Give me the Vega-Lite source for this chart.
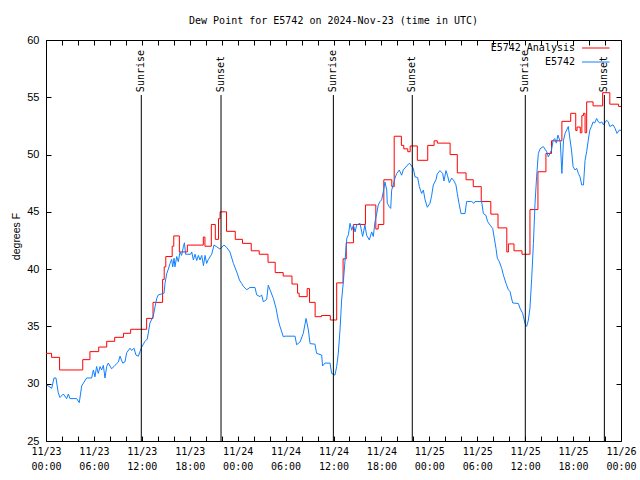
{
"$schema": "https://vega.github.io/schema/vega-lite/v6.json",
"width": 575, "height": 401,
"autosize": {"type": "none"},
"padding": {"left": 46, "top": 40, "right": 19, "bottom": 39},
"background": "white",
"title": {"text": "Dew Point for E5742 on 2024-Nov-23 (time in UTC)", "font": "DejaVu Sans Mono", "fontSize": 10, "fontWeight": "normal", "color": "black", "offset": 0, "baseline": "alphabetic", "anchor": "middle", "frame": "group"},
"config": {"view": {"stroke": "black", "strokeWidth": 1}, "axis": {"domain": false, "grid": false, "tickColor": "black", "tickWidth": 1, "labelColor": "black", "titleColor": "black"}},
"datasets": {
"ana": [
{"t":"2024-11-23T00:00:00Z","v":32.65},{"t":"2024-11-23T00:42:00Z","v":32.3},{"t":"2024-11-23T01:42:00Z","v":31.2},{"t":"2024-11-23T04:36:00Z","v":32.1},{"t":"2024-11-23T05:30:00Z","v":32.8},{"t":"2024-11-23T06:36:00Z","v":33.2},{"t":"2024-11-23T07:36:00Z","v":33.7},{"t":"2024-11-23T08:36:00Z","v":34.05},{"t":"2024-11-23T09:42:00Z","v":34.4},{"t":"2024-11-23T10:36:00Z","v":34.75},{"t":"2024-11-23T12:36:00Z","v":35.7},{"t":"2024-11-23T13:24:00Z","v":37.1},{"t":"2024-11-23T14:36:00Z","v":39.1},{"t":"2024-11-23T14:48:00Z","v":40.2},{"t":"2024-11-23T15:00:00Z","v":41.1},{"t":"2024-11-23T15:48:00Z","v":42.0},{"t":"2024-11-23T16:00:00Z","v":42.9},{"t":"2024-11-23T16:42:00Z","v":41.5},{"t":"2024-11-23T17:42:00Z","v":42.1},{"t":"2024-11-23T19:42:00Z","v":42.8},{"t":"2024-11-23T19:54:00Z","v":42.0},{"t":"2024-11-23T20:42:00Z","v":43.9},{"t":"2024-11-23T21:12:00Z","v":42.6},{"t":"2024-11-23T21:36:00Z","v":44.4},{"t":"2024-11-23T21:48:00Z","v":45.0},{"t":"2024-11-23T22:36:00Z","v":43.3},{"t":"2024-11-23T23:42:00Z","v":42.6},
{"t":"2024-11-24T00:36:00Z","v":42.25},{"t":"2024-11-24T01:42:00Z","v":41.6},{"t":"2024-11-24T02:42:00Z","v":41.3},{"t":"2024-11-24T03:48:00Z","v":40.6},{"t":"2024-11-24T04:42:00Z","v":39.7},{"t":"2024-11-24T05:42:00Z","v":39.4},{"t":"2024-11-24T06:48:00Z","v":38.7},{"t":"2024-11-24T07:30:00Z","v":37.9},{"t":"2024-11-24T07:42:00Z","v":37.6},{"t":"2024-11-24T08:42:00Z","v":38.3},{"t":"2024-11-24T09:00:00Z","v":37.1},{"t":"2024-11-24T09:42:00Z","v":35.85},{"t":"2024-11-24T10:30:00Z","v":35.95},{"t":"2024-11-24T11:36:00Z","v":35.56},{"t":"2024-11-24T12:24:00Z","v":38.8},{"t":"2024-11-24T13:12:00Z","v":40.9},{"t":"2024-11-24T13:36:00Z","v":42.3},{"t":"2024-11-24T14:30:00Z","v":43.9},{"t":"2024-11-24T16:00:00Z","v":45.6},{"t":"2024-11-24T17:18:00Z","v":43.5},{"t":"2024-11-24T17:36:00Z","v":43.9},{"t":"2024-11-24T18:18:00Z","v":47.8},{"t":"2024-11-24T19:18:00Z","v":47.2},{"t":"2024-11-24T19:36:00Z","v":51.6},{"t":"2024-11-24T20:30:00Z","v":50.8},{"t":"2024-11-24T20:48:00Z","v":50.5},{"t":"2024-11-24T21:18:00Z","v":50.25},{"t":"2024-11-24T21:36:00Z","v":50.75},{"t":"2024-11-24T22:30:00Z","v":49.5},{"t":"2024-11-24T23:48:00Z","v":50.8},
{"t":"2024-11-25T00:36:00Z","v":51.2},{"t":"2024-11-25T01:00:00Z","v":51.0},{"t":"2024-11-25T02:36:00Z","v":50.0},{"t":"2024-11-25T03:30:00Z","v":48.4},{"t":"2024-11-25T04:36:00Z","v":47.8},{"t":"2024-11-25T05:30:00Z","v":47.2},{"t":"2024-11-25T06:30:00Z","v":45.9},{"t":"2024-11-25T07:42:00Z","v":44.8},{"t":"2024-11-25T08:36:00Z","v":43.6},{"t":"2024-11-25T09:42:00Z","v":41.5},{"t":"2024-11-25T09:54:00Z","v":42.2},{"t":"2024-11-25T10:36:00Z","v":41.6},{"t":"2024-11-25T11:36:00Z","v":41.3},{"t":"2024-11-25T12:36:00Z","v":45.2},{"t":"2024-11-25T13:36:00Z","v":48.5},{"t":"2024-11-25T14:36:00Z","v":50.1},{"t":"2024-11-25T15:18:00Z","v":51.2},{"t":"2024-11-25T16:36:00Z","v":52.9},{"t":"2024-11-25T17:42:00Z","v":53.6},{"t":"2024-11-25T18:20:00Z","v":52.1},{"t":"2024-11-25T18:30:00Z","v":52.4},{"t":"2024-11-25T18:54:00Z","v":51.9},{"t":"2024-11-25T19:06:00Z","v":53.4},{"t":"2024-11-25T19:18:00Z","v":53.6},{"t":"2024-11-25T19:30:00Z","v":51.9},{"t":"2024-11-25T19:42:00Z","v":54.6},{"t":"2024-11-25T20:30:00Z","v":54.25},{"t":"2024-11-25T21:42:00Z","v":55.4},{"t":"2024-11-25T22:36:00Z","v":54.4},{"t":"2024-11-25T23:42:00Z","v":54.2},{"t":"2024-11-26T00:00:00Z","v":54.2}
],
"obs": [
{"t":"2024-11-23T00:05:00Z","v":29.9},{"t":"2024-11-23T00:43:00Z","v":29.6},{"t":"2024-11-23T01:00:00Z","v":30.5},{"t":"2024-11-23T01:15:00Z","v":30.5},{"t":"2024-11-23T01:32:00Z","v":29.2},{"t":"2024-11-23T01:45:00Z","v":28.8},{"t":"2024-11-23T02:10:00Z","v":29.1},{"t":"2024-11-23T02:35:00Z","v":28.7},{"t":"2024-11-23T02:48:00Z","v":29.1},{"t":"2024-11-23T03:00:00Z","v":28.7},{"t":"2024-11-23T03:50:00Z","v":28.7},{"t":"2024-11-23T04:10:00Z","v":28.35},{"t":"2024-11-23T04:28:00Z","v":29.8},{"t":"2024-11-23T05:05:00Z","v":30.5},{"t":"2024-11-23T05:43:00Z","v":30.5},{"t":"2024-11-23T05:56:00Z","v":31.2},{"t":"2024-11-23T06:08:00Z","v":30.6},{"t":"2024-11-23T06:20:00Z","v":31.5},{"t":"2024-11-23T06:33:00Z","v":30.9},{"t":"2024-11-23T06:46:00Z","v":31.5},{"t":"2024-11-23T06:58:00Z","v":31.2},{"t":"2024-11-23T07:11:00Z","v":31.6},{"t":"2024-11-23T07:23:00Z","v":30.5},{"t":"2024-11-23T07:36:00Z","v":31.5},{"t":"2024-11-23T07:48:00Z","v":31.8},{"t":"2024-11-23T08:13:00Z","v":31.3},{"t":"2024-11-23T08:38:00Z","v":31.6},{"t":"2024-11-23T09:04:00Z","v":31.9},{"t":"2024-11-23T09:16:00Z","v":32.4},{"t":"2024-11-23T09:36:00Z","v":31.8},{"t":"2024-11-23T09:53:00Z","v":31.9},{"t":"2024-11-23T10:06:00Z","v":32.7},{"t":"2024-11-23T10:31:00Z","v":33.1},{"t":"2024-11-23T10:44:00Z","v":32.9},{"t":"2024-11-23T11:01:00Z","v":33.1},{"t":"2024-11-23T11:16:00Z","v":32.5},{"t":"2024-11-23T11:34:00Z","v":32.4},{"t":"2024-11-23T11:46:00Z","v":32.8},{"t":"2024-11-23T11:59:00Z","v":33.2},{"t":"2024-11-23T12:24:00Z","v":33.7},{"t":"2024-11-23T12:41:00Z","v":33.9},{"t":"2024-11-23T13:01:00Z","v":35.3},{"t":"2024-11-23T13:26:00Z","v":35.9},{"t":"2024-11-23T13:39:00Z","v":36.7},{"t":"2024-11-23T13:52:00Z","v":37.45},{"t":"2024-11-23T14:04:00Z","v":37.75},{"t":"2024-11-23T14:47:00Z","v":37.9},{"t":"2024-11-23T14:54:00Z","v":38.75},{"t":"2024-11-23T15:07:00Z","v":39.6},{"t":"2024-11-23T15:19:00Z","v":40.0},{"t":"2024-11-23T15:32:00Z","v":40.5},{"t":"2024-11-23T15:44:00Z","v":40.85},{"t":"2024-11-23T15:52:00Z","v":40.2},{"t":"2024-11-23T16:02:00Z","v":40.95},{"t":"2024-11-23T16:09:00Z","v":40.2},{"t":"2024-11-23T16:22:00Z","v":41.1},{"t":"2024-11-23T16:34:00Z","v":40.65},{"t":"2024-11-23T16:47:00Z","v":41.5},{"t":"2024-11-23T16:59:00Z","v":41.2},{"t":"2024-11-23T17:12:00Z","v":41.95},{"t":"2024-11-23T17:20:00Z","v":42.3},{"t":"2024-11-23T17:29:00Z","v":41.3},{"t":"2024-11-23T18:07:00Z","v":41.3},{"t":"2024-11-23T18:15:00Z","v":41.5},{"t":"2024-11-23T18:27:00Z","v":40.8},{"t":"2024-11-23T18:40:00Z","v":41.3},{"t":"2024-11-23T18:52:00Z","v":40.75},{"t":"2024-11-23T19:05:00Z","v":41.2},{"t":"2024-11-23T19:17:00Z","v":40.8},{"t":"2024-11-23T19:30:00Z","v":41.2},{"t":"2024-11-23T19:43:00Z","v":40.3},{"t":"2024-11-23T19:55:00Z","v":41.2},{"t":"2024-11-23T20:07:00Z","v":40.5},{"t":"2024-11-23T20:20:00Z","v":40.85},{"t":"2024-11-23T20:45:00Z","v":41.3},{"t":"2024-11-23T21:02:00Z","v":42.1},{"t":"2024-11-23T21:23:00Z","v":41.95},{"t":"2024-11-23T21:47:00Z","v":41.75},{"t":"2024-11-23T22:17:00Z","v":42.1},{"t":"2024-11-23T22:37:00Z","v":41.9},{"t":"2024-11-23T23:02:00Z","v":41.5},{"t":"2024-11-23T23:28:00Z","v":40.5},{"t":"2024-11-23T23:58:00Z","v":39.6},
{"t":"2024-11-24T00:13:00Z","v":39.05},{"t":"2024-11-24T00:30:00Z","v":38.75},{"t":"2024-11-24T00:43:00Z","v":38.5},{"t":"2024-11-24T01:08:00Z","v":38.2},{"t":"2024-11-24T01:32:00Z","v":38.4},{"t":"2024-11-24T02:10:00Z","v":38.4},{"t":"2024-11-24T02:23:00Z","v":37.75},{"t":"2024-11-24T02:48:00Z","v":37.6},{"t":"2024-11-24T03:00:00Z","v":37.75},{"t":"2024-11-24T03:13:00Z","v":37.15},{"t":"2024-11-24T03:38:00Z","v":37.35},{"t":"2024-11-24T03:50:00Z","v":38.6},{"t":"2024-11-24T04:03:00Z","v":38.2},{"t":"2024-11-24T04:28:00Z","v":37.45},{"t":"2024-11-24T04:48:00Z","v":36.6},{"t":"2024-11-24T05:05:00Z","v":35.55},{"t":"2024-11-24T05:18:00Z","v":35.0},{"t":"2024-11-24T05:43:00Z","v":34.1},{"t":"2024-11-24T05:56:00Z","v":34.15},{"t":"2024-11-24T07:11:00Z","v":34.15},{"t":"2024-11-24T07:23:00Z","v":33.4},{"t":"2024-11-24T07:49:00Z","v":33.65},{"t":"2024-11-24T08:13:00Z","v":34.4},{"t":"2024-11-24T08:34:00Z","v":35.7},{"t":"2024-11-24T08:51:00Z","v":34.7},{"t":"2024-11-24T09:04:00Z","v":33.5},{"t":"2024-11-24T09:41:00Z","v":33.45},{"t":"2024-11-24T09:53:00Z","v":32.65},{"t":"2024-11-24T10:31:00Z","v":32.5},{"t":"2024-11-24T10:38:00Z","v":31.55},{"t":"2024-11-24T10:56:00Z","v":31.8},{"t":"2024-11-24T11:34:00Z","v":31.8},{"t":"2024-11-24T11:46:00Z","v":30.9},{"t":"2024-11-24T12:11:00Z","v":30.75},{"t":"2024-11-24T12:24:00Z","v":31.5},{"t":"2024-11-24T12:36:00Z","v":32.65},{"t":"2024-11-24T12:49:00Z","v":34.7},{"t":"2024-11-24T13:01:00Z","v":37.3},{"t":"2024-11-24T13:14:00Z","v":38.9},{"t":"2024-11-24T13:27:00Z","v":40.8},{"t":"2024-11-24T13:40:00Z","v":42.7},{"t":"2024-11-24T13:52:00Z","v":43.0},{"t":"2024-11-24T14:04:00Z","v":44.0},{"t":"2024-11-24T14:17:00Z","v":43.4},{"t":"2024-11-24T14:30:00Z","v":43.85},{"t":"2024-11-24T14:42:00Z","v":43.25},{"t":"2024-11-24T14:54:00Z","v":43.85},{"t":"2024-11-24T15:19:00Z","v":44.0},{"t":"2024-11-24T15:39:00Z","v":42.85},{"t":"2024-11-24T15:56:00Z","v":43.85},{"t":"2024-11-24T16:09:00Z","v":42.95},{"t":"2024-11-24T16:29:00Z","v":42.55},{"t":"2024-11-24T16:47:00Z","v":43.25},{"t":"2024-11-24T16:59:00Z","v":42.85},{"t":"2024-11-24T17:12:00Z","v":44.15},{"t":"2024-11-24T17:25:00Z","v":44.85},{"t":"2024-11-24T17:36:00Z","v":45.6},{"t":"2024-11-24T17:50:00Z","v":45.9},{"t":"2024-11-24T18:02:00Z","v":46.05},{"t":"2024-11-24T18:14:00Z","v":46.75},{"t":"2024-11-24T18:27:00Z","v":47.6},{"t":"2024-11-24T18:40:00Z","v":46.9},{"t":"2024-11-24T18:44:00Z","v":45.75},{"t":"2024-11-24T18:59:00Z","v":45.45},{"t":"2024-11-24T19:10:00Z","v":45.3},{"t":"2024-11-24T19:17:00Z","v":46.9},{"t":"2024-11-24T19:29:00Z","v":47.35},{"t":"2024-11-24T19:42:00Z","v":47.95},{"t":"2024-11-24T19:55:00Z","v":48.35},{"t":"2024-11-24T20:14:00Z","v":48.65},{"t":"2024-11-24T20:32:00Z","v":48.2},{"t":"2024-11-24T20:44:00Z","v":48.65},{"t":"2024-11-24T21:10:00Z","v":49.0},{"t":"2024-11-24T21:30:00Z","v":49.25},{"t":"2024-11-24T21:47:00Z","v":49.0},{"t":"2024-11-24T22:00:00Z","v":48.8},{"t":"2024-11-24T22:12:00Z","v":48.05},{"t":"2024-11-24T22:32:00Z","v":48.0},{"t":"2024-11-24T22:45:00Z","v":47.2},{"t":"2024-11-24T23:02:00Z","v":46.6},{"t":"2024-11-24T23:15:00Z","v":46.9},{"t":"2024-11-24T23:28:00Z","v":46.05},{"t":"2024-11-24T23:45:00Z","v":45.4},
{"t":"2024-11-25T00:05:00Z","v":45.75},{"t":"2024-11-25T00:17:00Z","v":46.4},{"t":"2024-11-25T00:30:00Z","v":47.35},{"t":"2024-11-25T00:50:00Z","v":47.8},{"t":"2024-11-25T00:59:00Z","v":48.3},{"t":"2024-11-25T01:20:00Z","v":48.6},{"t":"2024-11-25T01:40:00Z","v":48.35},{"t":"2024-11-25T01:50:00Z","v":47.7},{"t":"2024-11-25T02:05:00Z","v":48.6},{"t":"2024-11-25T02:16:00Z","v":48.2},{"t":"2024-11-25T02:30:00Z","v":47.55},{"t":"2024-11-25T02:48:00Z","v":47.95},{"t":"2024-11-25T03:05:00Z","v":47.7},{"t":"2024-11-25T03:20:00Z","v":47.35},{"t":"2024-11-25T03:30:00Z","v":46.6},{"t":"2024-11-25T03:43:00Z","v":45.75},{"t":"2024-11-25T03:58:00Z","v":44.85},{"t":"2024-11-25T04:28:00Z","v":44.85},{"t":"2024-11-25T04:40:00Z","v":45.9},{"t":"2024-11-25T05:18:00Z","v":45.9},{"t":"2024-11-25T05:35:00Z","v":45.75},{"t":"2024-11-25T05:43:00Z","v":45.9},{"t":"2024-11-25T06:33:00Z","v":45.9},{"t":"2024-11-25T06:46:00Z","v":44.85},{"t":"2024-11-25T07:05:00Z","v":44.7},{"t":"2024-11-25T07:18:00Z","v":44.15},{"t":"2024-11-25T07:36:00Z","v":43.85},{"t":"2024-11-25T07:56:00Z","v":43.55},{"t":"2024-11-25T08:08:00Z","v":42.7},{"t":"2024-11-25T08:21:00Z","v":41.8},{"t":"2024-11-25T08:31:00Z","v":40.95},{"t":"2024-11-25T08:46:00Z","v":40.65},{"t":"2024-11-25T09:04:00Z","v":40.05},{"t":"2024-11-25T09:16:00Z","v":39.5},{"t":"2024-11-25T09:36:00Z","v":38.75},{"t":"2024-11-25T09:54:00Z","v":38.2},{"t":"2024-11-25T10:06:00Z","v":38.05},{"t":"2024-11-25T10:26:00Z","v":37.05},{"t":"2024-11-25T11:09:00Z","v":37.0},{"t":"2024-11-25T11:21:00Z","v":36.6},{"t":"2024-11-25T11:41:00Z","v":36.15},{"t":"2024-11-25T11:59:00Z","v":35.25},{"t":"2024-11-25T12:11:00Z","v":35.0},{"t":"2024-11-25T12:24:00Z","v":35.55},{"t":"2024-11-25T12:36:00Z","v":36.6},{"t":"2024-11-25T12:49:00Z","v":39.2},{"t":"2024-11-25T13:02:00Z","v":42.25},{"t":"2024-11-25T13:14:00Z","v":45.75},{"t":"2024-11-25T13:26:00Z","v":48.05},{"t":"2024-11-25T13:39:00Z","v":50.1},{"t":"2024-11-25T13:52:00Z","v":50.5},{"t":"2024-11-25T14:16:00Z","v":50.7},{"t":"2024-11-25T14:42:00Z","v":50.25},{"t":"2024-11-25T14:54:00Z","v":49.8},{"t":"2024-11-25T15:18:00Z","v":50.4},{"t":"2024-11-25T15:30:00Z","v":51.25},{"t":"2024-11-25T15:42:00Z","v":51.4},{"t":"2024-11-25T15:54:00Z","v":51.0},{"t":"2024-11-25T16:06:00Z","v":51.7},{"t":"2024-11-25T16:24:00Z","v":51.1},{"t":"2024-11-25T16:36:00Z","v":48.35},{"t":"2024-11-25T16:48:00Z","v":51.25},{"t":"2024-11-25T17:00:00Z","v":51.85},{"t":"2024-11-25T17:12:00Z","v":52.15},{"t":"2024-11-25T17:24:00Z","v":52.45},{"t":"2024-11-25T17:36:00Z","v":51.4},{"t":"2024-11-25T17:48:00Z","v":50.4},{"t":"2024-11-25T18:00:00Z","v":48.95},{"t":"2024-11-25T18:15:00Z","v":48.65},{"t":"2024-11-25T18:27:00Z","v":48.8},{"t":"2024-11-25T18:40:00Z","v":48.35},{"t":"2024-11-25T18:52:00Z","v":48.05},{"t":"2024-11-25T19:05:00Z","v":47.35},{"t":"2024-11-25T19:18:00Z","v":47.35},{"t":"2024-11-25T19:30:00Z","v":49.5},{"t":"2024-11-25T19:42:00Z","v":50.25},{"t":"2024-11-25T19:54:00Z","v":51.25},{"t":"2024-11-25T20:06:00Z","v":52.15},{"t":"2024-11-25T20:18:00Z","v":52.45},{"t":"2024-11-25T20:30:00Z","v":52.85},{"t":"2024-11-25T20:42:00Z","v":52.75},{"t":"2024-11-25T20:57:00Z","v":53.15},{"t":"2024-11-25T21:10:00Z","v":52.85},{"t":"2024-11-25T21:22:00Z","v":52.75},{"t":"2024-11-25T21:36:00Z","v":52.85},{"t":"2024-11-25T21:48:00Z","v":52.6},{"t":"2024-11-25T22:12:00Z","v":53.0},{"t":"2024-11-25T22:24:00Z","v":52.85},{"t":"2024-11-25T22:36:00Z","v":52.45},{"t":"2024-11-25T23:00:00Z","v":52.6},{"t":"2024-11-25T23:15:00Z","v":52.3},{"t":"2024-11-25T23:30:00Z","v":51.85},{"t":"2024-11-25T23:48:00Z","v":52.15},{"t":"2024-11-26T00:00:00Z","v":52.1}
],
"sun": [
{"t":"2024-11-23T11:56:00Z","label":"Sunrise"},{"t":"2024-11-23T21:55:00Z","label":"Sunset"},{"t":"2024-11-24T11:59:00Z","label":"Sunrise"},{"t":"2024-11-24T21:52:00Z","label":"Sunset"},{"t":"2024-11-25T12:01:00Z","label":"Sunrise"},{"t":"2024-11-25T21:55:00Z","label":"Sunset"}
]
},
"layer": [
{"data": {"name": "ana"},
 "mark": {"type": "line", "interpolate": "step-after", "strokeWidth": 1},
 "encoding": {
  "x": {"field": "t", "type": "temporal",
   "scale": {"domain": [1732320000000, 1732579200000], "nice": false},
   "axis": {"orient": "bottom", "title": null,
    "values": [1732320000000,1732327200000,1732334400000,1732341600000,1732348800000,1732356000000,1732363200000,1732370400000,1732377600000,1732384800000,1732392000000,1732399200000,1732406400000,1732413600000,1732420800000,1732428000000,1732435200000,1732442400000,1732449600000,1732456800000,1732464000000,1732471200000,1732478400000,1732485600000,1732492800000,1732500000000,1732507200000,1732514400000,1732521600000,1732528800000,1732536000000,1732543200000,1732550400000,1732557600000,1732564800000,1732572000000,1732579200000],
    "tickSize": -5, "labelPadding": 10, "labelFont": "DejaVu Sans Mono", "labelFontSize": 10, "labelLineHeight": 15, "labelBaseline": "top", "labelOverlap": false, "labelFlush": false, "labelBound": false,
    "labelExpr": "utchours(datum.value) % 6 == 0 ? [utcFormat(datum.value, '%m/%d'), utcFormat(datum.value, '%H:%M')] : ''"}},
  "y": {"field": "v", "type": "quantitative",
   "scale": {"domain": [25, 60], "nice": false, "zero": false},
   "axis": {"orient": "left", "values": [25, 30, 35, 40, 45, 50, 55, 60], "tickSize": -5, "labelPadding": 12, "labelFont": "Liberation Sans", "labelFontSize": 11,
    "title": "degrees F", "titleFont": "Liberation Sans", "titleFontSize": 10.5, "titleFontWeight": "normal", "titleX": -27, "titleY": 196, "titleAngle": 270, "titleAlign": "center", "titleBaseline": "alphabetic"}},
  "color": {"datum": "E5742 Analysis",
   "scale": {"domain": ["E5742 Analysis", "E5742"], "range": ["#ff0000", "#1080ff"]},
   "legend": {"orient": "none", "legendX": 544.25, "legendY": 2.5, "title": null, "symbolType": "M-2.75,0H2.75", "symbolSize": 100, "symbolStrokeWidth": 1, "symbolFillColor": "transparent", "labelAlign": "right", "labelOffset": -26.25, "labelFont": "DejaVu Sans Mono", "labelFontSize": 10, "labelColor": "black", "rowPadding": 3, "padding": 0}}
 }},
{"data": {"name": "obs"},
 "mark": {"type": "line", "strokeWidth": 1},
 "encoding": {
  "x": {"field": "t", "type": "temporal", "axis": {"orient": "top", "title": null, "labels": false,
    "values": [1732320000000,1732327200000,1732334400000,1732341600000,1732348800000,1732356000000,1732363200000,1732370400000,1732377600000,1732384800000,1732392000000,1732399200000,1732406400000,1732413600000,1732420800000,1732428000000,1732435200000,1732442400000,1732449600000,1732456800000,1732464000000,1732471200000,1732478400000,1732485600000,1732492800000,1732500000000,1732507200000,1732514400000,1732521600000,1732528800000,1732536000000,1732543200000,1732550400000,1732557600000,1732564800000,1732572000000,1732579200000],
    "tickSize": -5}},
  "y": {"field": "v", "type": "quantitative", "axis": {"orient": "right", "title": null, "labels": false, "values": [25, 30, 35, 40, 45, 50, 55, 60], "tickSize": -5}},
  "color": {"datum": "E5742"}
 }},
{"data": {"name": "sun"},
 "mark": {"type": "rule", "color": "black", "strokeWidth": 1},
 "encoding": {
  "x": {"field": "t", "type": "temporal", "axis": null},
  "y": {"datum": 55.2, "type": "quantitative", "axis": null},
  "y2": {"datum": 25}
 }},
{"data": {"name": "sun"},
 "mark": {"type": "text", "angle": 270, "align": "left", "baseline": "middle", "font": "DejaVu Sans Mono", "fontSize": 10, "color": "black"},
 "encoding": {
  "x": {"field": "t", "type": "temporal", "axis": null},
  "y": {"datum": 55.45, "type": "quantitative", "axis": null},
  "text": {"field": "label"}
 }}
],
"resolve": {"axis": {"x": "independent", "y": "independent"}}
}
